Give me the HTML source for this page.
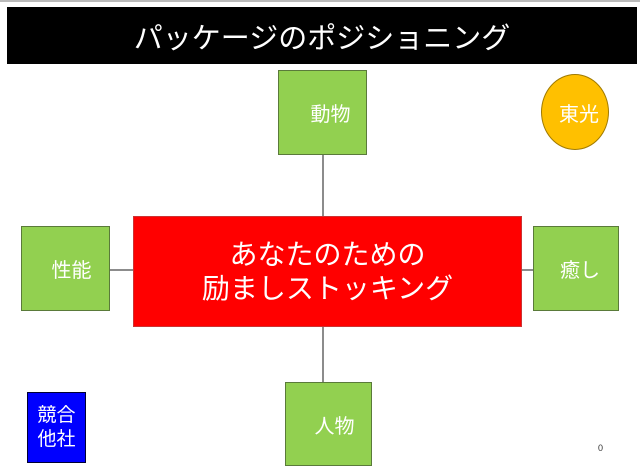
<!DOCTYPE html>
<html><head><meta charset="utf-8"><style>
body{margin:0;width:640px;height:470px;background:#fff;position:relative;overflow:hidden;font-family:"Liberation Sans","Noto Sans CJK JP",sans-serif;}
div{position:absolute;box-sizing:border-box;}
.g{background:#92d050;border:1px solid #5a7a3a;color:#fff;font-size:20px;display:flex;align-items:center;justify-content:center;}
.l{background:#8c8c8c;}
</style></head><body>
<div style="left:0;top:0;width:640px;height:2px;background:#bbb"></div>
<div style="left:7px;top:7px;width:630px;height:57px;background:#000;color:#fff;font-size:29px;display:flex;align-items:center;justify-content:center;">パッケージのポジショニング</div>
<div class="l" style="left:322px;top:154px;width:2px;height:62px"></div>
<div class="l" style="left:322px;top:327px;width:2px;height:55px"></div>
<div class="l" style="left:110px;top:269px;width:23px;height:2px"></div>
<div class="l" style="left:522px;top:269px;width:11px;height:2px"></div>
<div class="g" style="left:278px;top:70px;width:89px;height:85px;padding-left:16px">動物</div>
<div style="left:541px;top:74px;width:68px;height:76px;border-radius:50%;background:#ffc000;border:1px solid #a07a00;color:#fff;font-size:20px;display:flex;align-items:center;justify-content:center;padding-left:8px">東光</div>
<div style="left:133px;top:216px;width:389px;height:111px;background:#ff0000;border:1px solid #c33;color:#fff;font-size:28px;line-height:34px;display:flex;align-items:center;justify-content:center;text-align:center;">あなたのための<br>励ましストッキング</div>
<div class="g" style="left:21px;top:226px;width:89px;height:85px;padding-left:12px">性能</div>
<div class="g" style="left:533px;top:226px;width:86px;height:85px;padding-left:8px">癒し</div>
<div class="g" style="left:285px;top:382px;width:87px;height:84px;padding-left:12px">人物</div>
<div style="left:27px;top:392px;width:59px;height:71px;background:#0000ff;border:1px solid #003;color:#fff;font-size:19px;line-height:24px;display:flex;align-items:center;justify-content:center;text-align:center;">競合<br>他社</div>
<div style="left:598px;top:443px;font-size:9px;color:#333">0</div>
</body></html>
